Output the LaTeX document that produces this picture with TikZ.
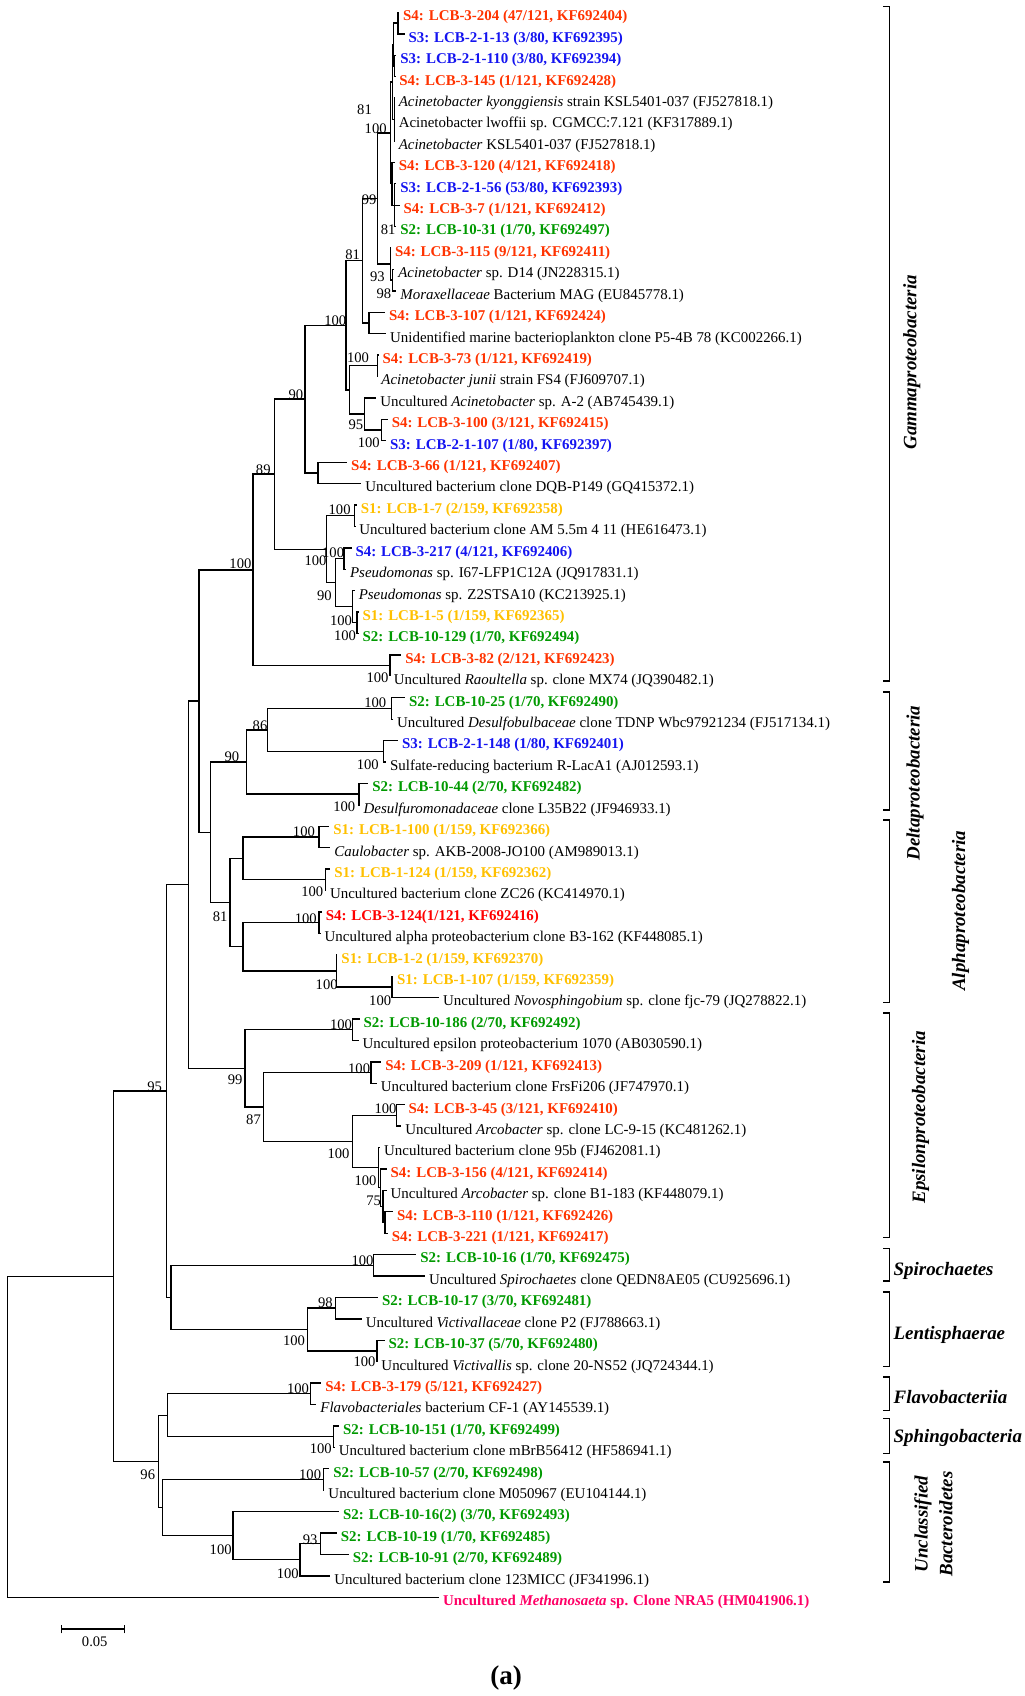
\documentclass[tikz,border=0pt]{standalone}
\usepackage{fontspec}
\setmainfont{Liberation Serif}
\definecolor{cSfour}{RGB}{255,51,0}
\definecolor{cSfourR}{RGB}{255,0,0}
\definecolor{cSthree}{RGB}{20,20,240}
\definecolor{cStwo}{RGB}{0,153,0}
\definecolor{cSone}{RGB}{255,192,0}
\definecolor{cOut}{RGB}{255,0,102}
\newcommand\LeafFont{\fontsize{13.8}{15}\selectfont}
\newcommand\BsFont{\fontsize{13.5}{15}\selectfont}
\newcommand\GrpFont{\fontsize{17.5}{23}\selectfont}
\newcommand\Edges[2]{\foreach \ch in {#2}{\draw[br] (#1) |- (\ch);}}
\tikzset{
  br/.style={line width=1.25pt},
  brk/.style={line width=1.25pt},
  lf/.style={anchor=west, inner xsep=3.5pt, inner ysep=0pt, text height=15.4pt, text depth=0pt, font=\LeafFont},
  rf/.style={lf},
  sfour/.style={lf, text=cSfour, font=\LeafFont\bfseries},
  sfourr/.style={lf, text=cSfourR, font=\LeafFont\bfseries},
  sthree/.style={lf, text=cSthree, font=\LeafFont\bfseries},
  stwo/.style={lf, text=cStwo, font=\LeafFont\bfseries},
  sone/.style={lf, text=cSone, font=\LeafFont\bfseries},
  og/.style={lf, text=cOut, font=\LeafFont\bfseries},
  bsl/.style={font=\BsFont, inner sep=0pt, text height=9pt, text depth=0pt, anchor=center},
  grp/.style={font=\GrpFont\bfseries\itshape, inner sep=0pt},
}
\begin{document}
\begin{tikzpicture}[x=1pt,y=-1pt]
\useasboundingbox (0,0) rectangle (947,1568);
\begin{scope}[x=1pt,y=-19.8pt,yshift=8.3pt]
% leaves
\node[sfour] (l1) at (369,1) {S4: LCB-3-204 (47/121, KF692404)};
\node[sthree] (l2) at (374,2) {S3: LCB-2-1-13 (3/80, KF692395)};
\node[sthree] (l3) at (366.5,3) {S3: LCB-2-1-110 (3/80, KF692394)};
\node[sfour] (l4) at (365.5,4) {S4: LCB-3-145 (1/121, KF692428)};
\node[rf] (l5) at (365,5) {\textit{Acinetobacter kyonggiensis} strain KSL5401-037 (FJ527818.1)};
\node[rf] (l6) at (365,6) {Acinetobacter lwoffii sp. CGMCC:7.121 (KF317889.1)};
\node[rf] (l7) at (365,7) {\textit{Acinetobacter} KSL5401-037 (FJ527818.1)};
\node[sfour] (l8) at (365,8) {S4: LCB-3-120 (4/121, KF692418)};
\node[sthree] (l9) at (366.5,9) {S3: LCB-2-1-56 (53/80, KF692393)};
\node[sfour] (l10) at (369.5,10) {S4: LCB-3-7 (1/121, KF692412)};
\node[stwo] (l11) at (366.5,11) {S2: LCB-10-31 (1/70, KF692497)};
\node[sfour] (l12) at (361.5,12) {S4: LCB-3-115 (9/121, KF692411)};
\node[rf] (l13) at (364.5,13) {\textit{Acinetobacter} sp. D14 (JN228315.1)};
\node[rf] (l14) at (366.5,14) {\textit{Moraxellaceae} Bacterium MAG (EU845778.1)};
\node[sfour] (l15) at (356,15) {S4: LCB-3-107 (1/121, KF692424)};
\node[rf] (l16) at (357,16) {Unidentified marine bacterioplankton clone P5-4B 78 (KC002266.1)};
\node[sfour] (l17) at (350,17) {S4: LCB-3-73 (1/121, KF692419)};
\node[rf] (l18) at (349,18) {\textit{Acinetobacter junii} strain FS4 (FJ609707.1)};
\node[rf] (l19) at (348,19) {Uncultured \textit{Acinetobacter} sp. A-2 (AB745439.1)};
\node[sfour] (l20) at (358.5,20) {S4: LCB-3-100 (3/121, KF692415)};
\node[sthree] (l21) at (357,21) {S3: LCB-2-1-107 (1/80, KF692397)};
\node[sfour] (l22) at (321,22) {S4: LCB-3-66 (1/121, KF692407)};
\node[rf] (l23) at (334,23) {Uncultured bacterium clone DQB-P149 (GQ415372.1)};
\node[sone] (l24) at (330,24) {S1: LCB-1-7 (2/159, KF692358)};
\node[rf] (l25) at (328.5,25) {Uncultured bacterium clone AM 5.5m 4 11 (HE616473.1)};
\node[sthree] (l26) at (325,26) {S4: LCB-3-217 (4/121, KF692406)};
\node[rf] (l27) at (320,27) {\textit{Pseudomonas} sp. I67-LFP1C12A (JQ917831.1)};
\node[rf] (l28) at (328,28) {\textit{Pseudomonas} sp. Z2STSA10 (KC213925.1)};
\node[sone] (l29) at (331.5,29) {S1: LCB-1-5 (1/159, KF692365)};
\node[stwo] (l30) at (331.5,30) {S2: LCB-10-129 (1/70, KF692494)};
\node[sfour] (l31) at (371,31) {S4: LCB-3-82 (2/121, KF692423)};
\node[rf] (l32) at (360.5,32) {Uncultured \textit{Raoultella} sp. clone MX74 (JQ390482.1)};
\node[stwo] (l33) at (374.5,33) {S2: LCB-10-25 (1/70, KF692490)};
\node[rf] (l34) at (363.5,34) {Uncultured \textit{Desulfobulbaceae} clone TDNP Wbc97921234 (FJ517134.1)};
\node[sthree] (l35) at (368,35) {S3: LCB-2-1-148 (1/80, KF692401)};
\node[rf] (l36) at (357,36) {Sulfate-reducing bacterium R-LacA1 (AJ012593.1)};
\node[stwo] (l37) at (340.5,37) {S2: LCB-10-44 (2/70, KF692482)};
\node[rf] (l38) at (332.5,38) {\textit{Desulfuromonadaceae} clone L35B22 (JF946933.1)};
\node[sone] (l39) at (304.5,39) {S1: LCB-1-100 (1/159, KF692366)};
\node[rf] (l40) at (305.5,40) {\textit{Caulobacter} sp. AKB-2008-JO100 (AM989013.1)};
\node[sone] (l41) at (305.5,41) {S1: LCB-1-124 (1/159, KF692362)};
\node[rf] (l42) at (301.5,42) {Uncultured bacterium clone ZC26 (KC414970.1)};
\node[sfourr] (l43) at (297.5,43) {S4: LCB-3-124(1/121, KF692416)};
\node[rf] (l44) at (296.5,44) {Uncultured alpha proteobacterium clone B3-162 (KF448085.1)};
\node[sone] (l45) at (312,45) {S1: LCB-1-2 (1/159, KF692370)};
\node[sone] (l46) at (363.5,46) {S1: LCB-1-107 (1/159, KF692359)};
\node[rf] (l47) at (406,47) {Uncultured \textit{Novosphingobium} sp. clone fjc-79 (JQ278822.1)};
\node[stwo] (l48) at (332.5,48) {S2: LCB-10-186 (2/70, KF692492)};
\node[rf] (l49) at (331.5,49) {Uncultured epsilon proteobacterium 1070 (AB030590.1)};
\node[sfour] (l50) at (352.5,50) {S4: LCB-3-209 (1/121, KF692413)};
\node[rf] (l51) at (348.5,51) {Uncultured bacterium clone FrsFi206 (JF747970.1)};
\node[sfour] (l52) at (374,52) {S4: LCB-3-45 (3/121, KF692410)};
\node[rf] (l53) at (371,53) {Uncultured \textit{Arcobacter} sp. clone LC-9-15 (KC481262.1)};
\node[rf] (l54) at (351.5,54) {Uncultured bacterium clone 95b (FJ462081.1)};
\node[sfour] (l55) at (357.5,55) {S4: LCB-3-156 (4/121, KF692414)};
\node[rf] (l56) at (357.5,56) {Uncultured \textit{Arcobacter} sp. clone B1-183 (KF448079.1)};
\node[sfour] (l57) at (363.5,57) {S4: LCB-3-110 (1/121, KF692426)};
\node[sfour] (l58) at (358.5,58) {S4: LCB-3-221 (1/121, KF692417)};
\node[stwo] (l59) at (385,59) {S2: LCB-10-16 (1/70, KF692475)};
\node[rf] (l60) at (393,60) {Uncultured \textit{Spirochaetes} clone QEDN8AE05 (CU925696.1)};
\node[stwo] (l61) at (349.5,61) {S2: LCB-10-17 (3/70, KF692481)};
\node[rf] (l62) at (334.5,62) {Uncultured \textit{Victivallaceae} clone P2 (FJ788663.1)};
\node[stwo] (l63) at (355.5,63) {S2: LCB-10-37 (5/70, KF692480)};
\node[rf] (l64) at (349,64) {Uncultured \textit{Victivallis} sp. clone 20-NS52 (JQ724344.1)};
\node[sfour] (l65) at (297,65) {S4: LCB-3-179 (5/121, KF692427)};
\node[rf] (l66) at (292.5,66) {\textit{Flavobacteriales} bacterium CF-1 (AY145539.1)};
\node[stwo] (l67) at (313.5,67) {S2: LCB-10-151 (1/70, KF692499)};
\node[rf] (l68) at (309.5,68) {Uncultured bacterium clone mBrB56412 (HF586941.1)};
\node[stwo] (l69) at (304.5,69) {S2: LCB-10-57 (2/70, KF692498)};
\node[rf] (l70) at (300,70) {Uncultured bacterium clone M050967 (EU104144.1)};
\node[stwo] (l71) at (313.5,71) {S2: LCB-10-16(2) (3/70, KF692493)};
\node[stwo] (l72) at (311.5,72) {S2: LCB-10-19 (1/70, KF692485)};
\node[stwo] (l73) at (322.5,73) {S2: LCB-10-91 (2/70, KF692489)};
\node[rf] (l74) at (305.5,74) {Uncultured bacterium clone 123MICC (JF341996.1)};
\node[og] (l75) at (406,75) {Uncultured \textit{Methanosaeta} sp. Clone NRA5 (HM041906.1)};
% internal nodes
\coordinate (N12) at (368,1.5);
\coordinate (N34) at (365,3.5);
\coordinate (N1to4) at (364,2.5);
\coordinate (N5to7) at (364.5,6);
\coordinate (NU) at (363,4.25);
\coordinate (N9to11) at (365,10);
\coordinate (NL) at (362.5,9);
\coordinate (N100b) at (361,6.625);
\coordinate (N1314) at (363,13.5);
\coordinate (N1214) at (361,12.75);
\coordinate (N99) at (349,9.6875);
\coordinate (N107) at (341,15.5);
\coordinate (N81b) at (335,12.594);
\coordinate (N1718) at (349,17.5);
\coordinate (N2021) at (353,20.5);
\coordinate (N1921) at (337,19.75);
\coordinate (NAc) at (323,18.625);
\coordinate (N100a) at (320,15.609);
\coordinate (N66) at (294,22.5);
\coordinate (N90) at (282,19.055);
\coordinate (N2425) at (328,24.5);
\coordinate (N2627) at (318,26.5);
\coordinate (N2930) at (330,29.5);
\coordinate (N2830) at (326,28.75);
\coordinate (N2630) at (310,27.625);
\coordinate (NPseu) at (302,26.0625);
\coordinate (N89) at (254,22.559);
\coordinate (NRaoul) at (360.5,31.5);
\coordinate (NGam) at (234,27.03);
\coordinate (N3334) at (362,33.5);
\coordinate (N3536) at (354.5,35.5);
\coordinate (N86) at (247.6,34.5);
\coordinate (N3738) at (332,37.5);
\coordinate (NDel) at (228,36);
\coordinate (N3940) at (294.8,39.5);
\coordinate (N4142) at (300.8,41.5);
\coordinate (NAone) at (224.7,40.5);
\coordinate (N4344) at (294.8,43.5);
\coordinate (N4647) at (362.4,46.5);
\coordinate (N4547) at (311,45.75);
\coordinate (NAtwo) at (224.7,44.625);
\coordinate (NAlp) at (212.6,42.5625);
\coordinate (NDA) at (194.5,39.28);
\coordinate (N184) at (184,33.155);
\coordinate (N4849) at (326,48.5);
\coordinate (N5051) at (343,50.5);
\coordinate (N5253) at (366.6,52.5);
\coordinate (N5758) at (356,57.5);
\coordinate (N5658) at (354,56.75);
\coordinate (N5558) at (352,55.875);
\coordinate (N5458) at (350,54.9375);
\coordinate (NArc) at (326,53.72);
\coordinate (N243) at (243.4,52.11);
\coordinate (NEps) at (226.5,50.305);
\coordinate (NProt) at (174,41.73);
\coordinate (NSpi) at (345.5,59.5);
\coordinate (N6162) at (310,61.5);
\coordinate (N6364) at (348.5,63.5);
\coordinate (NLen) at (284,62.5);
\coordinate (NSL) at (158,61);
\coordinate (N95) at (154,51.365);
\coordinate (NFla) at (287,65.5);
\coordinate (NSph) at (308.3,67.5);
\coordinate (NFS) at (155,66.5);
\coordinate (N6970) at (299,69.5);
\coordinate (N7273) at (296.6,72.5);
\coordinate (N7274) at (277.5,73.25);
\coordinate (N7174) at (215.5,72.125);
\coordinate (NUnc) at (150,70.8125);
\coordinate (N96) at (146.5,68.656);
\coordinate (N106) at (105,60.01);
\coordinate (root) at (7,67.505);
% edges
\Edges{root}{N106,l75}
\Edges{N106}{N95,N96}
\Edges{N95}{NProt,NSL}
\Edges{NProt}{N184,NEps}
\Edges{N184}{NGam,NDA}
\Edges{NGam}{N89,NRaoul}
\Edges{N89}{N90,NPseu}
\Edges{N90}{N100a,N66}
\Edges{N100a}{N81b,NAc}
\Edges{N81b}{N99,N107}
\Edges{N99}{N100b,N1214}
\Edges{N100b}{NU,NL}
\Edges{NU}{N1to4,N5to7}
\Edges{N1to4}{N12,N34}
\Edges{N12}{l1,l2}
\Edges{N34}{l3,l4}
\Edges{N5to7}{l5,l6,l7}
\Edges{NL}{l8,N9to11}
\Edges{N9to11}{l9,l10,l11}
\Edges{N1214}{l12,N1314}
\Edges{N1314}{l13,l14}
\Edges{N107}{l15,l16}
\Edges{NAc}{N1718,N1921}
\Edges{N1718}{l17,l18}
\Edges{N1921}{l19,N2021}
\Edges{N2021}{l20,l21}
\Edges{N66}{l22,l23}
\Edges{NPseu}{N2425,N2630}
\Edges{N2425}{l24,l25}
\Edges{N2630}{N2627,N2830}
\Edges{N2627}{l26,l27}
\Edges{N2830}{l28,N2930}
\Edges{N2930}{l29,l30}
\Edges{NRaoul}{l31,l32}
\Edges{NDA}{NDel,NAlp}
\Edges{NDel}{N86,N3738}
\Edges{N86}{N3334,N3536}
\Edges{N3334}{l33,l34}
\Edges{N3536}{l35,l36}
\Edges{N3738}{l37,l38}
\Edges{NAlp}{NAone,NAtwo}
\Edges{NAone}{N3940,N4142}
\Edges{N3940}{l39,l40}
\Edges{N4142}{l41,l42}
\Edges{NAtwo}{N4344,N4547}
\Edges{N4344}{l43,l44}
\Edges{N4547}{l45,N4647}
\Edges{N4647}{l46,l47}
\Edges{NEps}{N4849,N243}
\Edges{N4849}{l48,l49}
\Edges{N243}{N5051,NArc}
\Edges{N5051}{l50,l51}
\Edges{NArc}{N5253,N5458}
\Edges{N5253}{l52,l53}
\Edges{N5458}{l54,N5558}
\Edges{N5558}{l55,N5658}
\Edges{N5658}{l56,N5758}
\Edges{N5758}{l57,l58}
\Edges{NSL}{NSpi,NLen}
\Edges{NSpi}{l59,l60}
\Edges{NLen}{N6162,N6364}
\Edges{N6162}{l61,l62}
\Edges{N6364}{l63,l64}
\Edges{N96}{NFS,NUnc}
\Edges{NFS}{NFla,NSph}
\Edges{NFla}{l65,l66}
\Edges{NSph}{l67,l68}
\Edges{NUnc}{N6970,N7174}
\Edges{N6970}{l69,l70}
\Edges{N7174}{l71,N7274}
\Edges{N7274}{N7273,l74}
\Edges{N7273}{l72,l73}
\end{scope}
% bootstrap values
\node[bsl] (b1) at (337,101.7) {81};
\node[bsl] (b2) at (347.3,118.7) {100};
\node[bsl] (b3) at (341.3,184.8) {99};
\node[bsl] (b4) at (358.8,212) {81};
\node[bsl] (b5) at (326,235.8) {81};
\node[bsl] (b6) at (349,255.9) {93};
\node[bsl] (b7) at (355,271.3) {98};
\node[bsl] (b8) at (310,296.6) {100};
\node[bsl] (b9) at (331,330.5) {100};
\node[bsl] (b10) at (273.6,365.3) {90};
\node[bsl] (b11) at (329,393) {95};
\node[bsl] (b12) at (341,409.4) {100};
\node[bsl] (b13) at (243.4,434) {89};
\node[bsl] (b14) at (314,471) {100};
\node[bsl] (b15) at (308,510.8) {100};
\node[bsl] (b16) at (291.7,517.9) {100};
\node[bsl] (b17) at (222.3,521) {100};
\node[bsl] (b18) at (300,550.3) {90};
\node[bsl] (b19) at (315.3,573.4) {100};
\node[bsl] (b20) at (319,587.3) {100};
\node[bsl] (b21) at (349,626.4) {100};
\node[bsl] (b22) at (347,649.9) {100};
\node[bsl] (b23) at (240.4,670.5) {86};
\node[bsl] (b24) at (214.4,699.8) {90};
\node[bsl] (b25) at (340,706.6) {100};
\node[bsl] (b26) at (318.3,746) {100};
\node[bsl] (b27) at (281,769.2) {100};
\node[bsl] (b28) at (288.7,824.6) {100};
\node[bsl] (b29) at (282.7,849.3) {100};
\node[bsl] (b30) at (203.5,847) {81};
\node[bsl] (b31) at (302,910) {100};
\node[bsl] (b32) at (351.5,924.8) {100};
\node[bsl] (b33) at (315.3,947) {100};
\node[bsl] (b34) at (143,1004.3) {95};
\node[bsl] (b35) at (217.4,998.2) {99};
\node[bsl] (b36) at (332,988) {100};
\node[bsl] (b37) at (234.4,1035.2) {87};
\node[bsl] (b38) at (356.4,1025) {100};
\node[bsl] (b39) at (313,1066.6) {100};
\node[bsl] (b40) at (338,1091.3) {100};
\node[bsl] (b41) at (345.5,1109.8) {75};
\node[bsl] (b42) at (335.2,1165.3) {100};
\node[bsl] (b43) at (300.8,1204.7) {98};
\node[bsl] (b44) at (271.8,1239.3) {100};
\node[bsl] (b45) at (337,1259.3) {100};
\node[bsl] (b46) at (275.5,1284) {100};
\node[bsl] (b47) at (296.6,1339.4) {100};
\node[bsl] (b48) at (136.6,1363.2) {96};
\node[bsl] (b49) at (286.7,1363.2) {100};
\node[bsl] (b50) at (286.7,1423.6) {93};
\node[bsl] (b51) at (204,1432.8) {100};
\node[bsl] (b52) at (266,1455) {100};
% brackets
\draw[brk] (816.5,6.2) -- (822.5,6.2) -- (822.5,629.5) -- (816.5,629.5);
\draw[brk] (816.5,639.7) -- (822.5,639.7) -- (822.5,749) -- (816.5,749);
\draw[brk] (816.5,758) -- (822.5,758) -- (822.5,927) -- (816.5,927);
\draw[brk] (816.5,936.5) -- (822.5,936.5) -- (822.5,1144) -- (816.5,1144);
\draw[brk] (816.5,1154.5) -- (822.5,1154.5) -- (822.5,1184.4) -- (816.5,1184.4);
\draw[brk] (816.5,1194.6) -- (822.5,1194.6) -- (822.5,1263.3) -- (816.5,1263.3);
\draw[brk] (816.5,1273) -- (822.5,1273) -- (822.5,1304) -- (816.5,1304);
\draw[brk] (816.5,1311.7) -- (822.5,1311.7) -- (822.5,1344) -- (816.5,1344);
\draw[brk] (816.5,1351.8) -- (822.5,1351.8) -- (822.5,1462.7) -- (816.5,1462.7);
% group labels
\node[grp, rotate=90] (gGam) at (843,335) {Gammaproteobacteria};
\node[grp, rotate=90] (gDel) at (846,724) {Deltaproteobacteria};
\node[grp, rotate=90] (gAlp) at (888,842) {Alphaproteobacteria};
\node[grp, rotate=90] (gEps) at (851,1033) {Epsilonproteobacteria};
\node[grp, anchor=west] (gSpi) at (826,1175) {Spirochaetes};
\node[grp, anchor=west] (gLen) at (826,1234) {Lentisphaerae};
\node[grp, anchor=west] (gFla) at (826,1292) {Flavobacteriia};
\node[grp, anchor=west] (gSph) at (826,1329) {Sphingobacteria};
\node[grp, rotate=90, align=center] (gUnc) at (863,1409) {Unclassified\\Bacteroidetes};
% scale bar
\coordinate (sbL) at (57,1506);
\coordinate (sbR) at (115,1506);
\draw[br] (sbL) -- (sbR);
\draw[br] ([yshift=-4pt]sbL) -- ([yshift=4pt]sbL);
\draw[br] ([yshift=-4pt]sbR) -- ([yshift=4pt]sbR);
\node[bsl] (sbt) at (87.6,1518) {0.05};
\node[font=\fontsize{25}{28}\selectfont\bfseries, inner sep=0pt] (cap) at (468,1551) {(a)};
\end{tikzpicture}
\end{document}
